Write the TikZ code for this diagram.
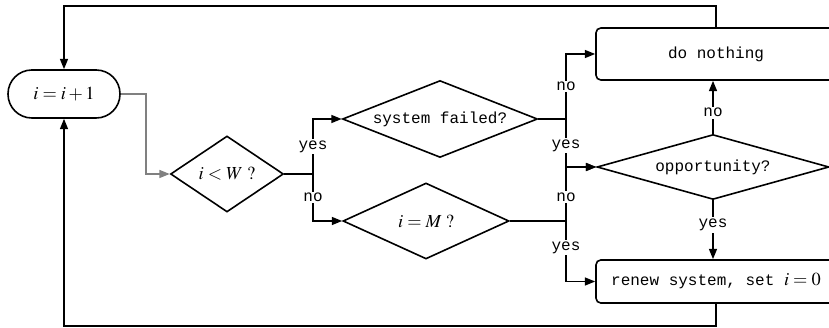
\documentclass[tikz,border=0pt]{standalone}
\usepackage{mathptmx}
\usepackage{fontspec}
\setmonofont{Liberation Mono}
\usetikzlibrary{arrows.meta,shapes.geometric,calc}

\begin{document}
\begin{tikzpicture}[
    x=0.625pt, y=-0.625pt,
    >={Triangle[length=6.5pt, width=5pt]},
    line width=1pt,
    every node/.style={font=\ttfamily},
    term/.style={draw, rectangle, rounded corners=14.9pt, minimum width=70pt, minimum height=30pt, inner sep=0pt},
    test/.style={draw, diamond, shape aspect=2.5, inner sep=0pt},
    act/.style={draw, rectangle, rounded corners=3pt, minimum width=150pt, inner sep=0pt},
    lbl/.style={fill=white, inner sep=1pt},
    big/.style={font=\fontsize{11.5}{13}\selectfont},
  ]
  \clip (0,0) rectangle (829,328);

  \node[term, big] (inc) at (64,94) {$i=i+1$};
  \node[test, big, minimum width=70.6pt, minimum height=47.5pt] (iw) at (227,174) {$i<W\;?$};
  \node[test, minimum width=121.9pt, minimum height=48.1pt] (sf) at (440,119) {system failed?};
  \node[test, big, minimum width=103.8pt, minimum height=47.5pt] (im) at (426,221) {$i=M\;?$};
  \node[test, minimum width=145pt, minimum height=40.6pt] (opp) at (713,167) {opportunity?};
  \node[act, minimum height=32.5pt] (dn) at (716,54) {do nothing};
  \node[act, minimum height=26.9pt] (rn) at (716,281.5) {renew system, set {\fontsize{11.5}{13}\selectfont$i=0$}};

  % branch points
  \coordinate (jl) at (313,174);
  \coordinate (ja) at (566,119);
  \coordinate (jb) at (566,221);

  \draw[->, gray] (inc.east) -- ++(25,0) |- (iw.west);
  \draw (iw.east) -- (jl);
  \draw[->] (jl) |- node[lbl, pos=0.25]{yes} (sf.west);
  \draw[->] (jl) |- node[lbl, pos=0.25]{no} (im.west);

  \draw (sf.east) -- (ja);
  \draw[->] (ja) |- node[lbl, pos=0.25]{no} (dn.west);
  \draw[->] (ja) |- node[lbl, pos=0.28]{yes} (opp.west);
  \draw (im.east) -- (jb);
  \draw[->] (jb) |- node[lbl, pos=0.22]{no} (opp.west);
  \draw[->] (jb) |- node[lbl, pos=0.22]{yes} (rn.west);

  \draw[->] (opp.north) -- node[lbl, pos=0.4]{no} (opp.north |- dn.south);
  \draw[->] (opp.south) -- node[lbl, pos=0.42]{yes} (opp.south |- rn.north);

  % loops back to the counter
  \draw[->] (dn.north) -- ++(0,-21) -| (inc.north);
  \draw[->] (rn.south) -- ++(0,22) -| (inc.south);
\end{tikzpicture}
\end{document}
